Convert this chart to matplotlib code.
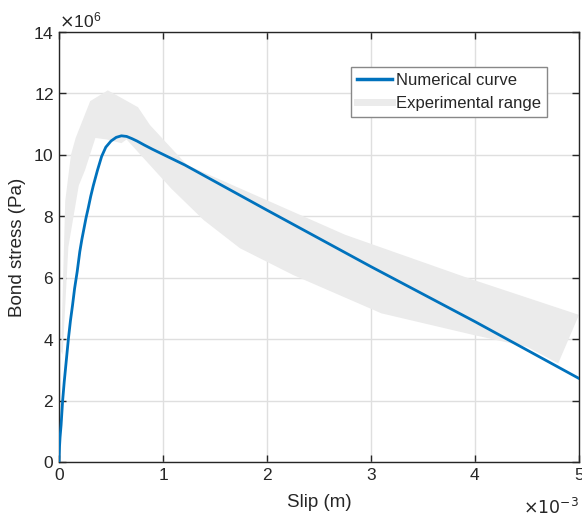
import numpy as np
import matplotlib
matplotlib.use("Agg")
import matplotlib.pyplot as plt
from matplotlib.lines import Line2D

# numerical curve (slip in mm, stress in MPa)
num_slip = [0, 0.005, 0.01, 0.02, 0.035, 0.05, 0.07, 0.09, 0.11, 0.13, 0.15, 0.175,
            0.2, 0.22, 0.24, 0.26, 0.28, 0.305, 0.33, 0.37, 0.41, 0.45, 0.5, 0.55,
            0.6, 0.65, 0.7, 0.75, 0.82, 0.9, 1.21, 2, 3, 4, 5]
num_stress = [0, 0.5, 0.8, 1.2, 2.0, 2.6, 3.3, 4.0, 4.6, 5.1, 5.65, 6.2,
              6.85, 7.25, 7.6, 7.95, 8.25, 8.65, 9.0, 9.5, 9.95, 10.25, 10.45, 10.57,
              10.62, 10.6, 10.53, 10.45, 10.32, 10.18, 9.67, 8.2, 6.36, 4.57, 2.72]

# experimental envelope
up_slip = [0.02, 0.06, 0.115, 0.16, 0.30, 0.47, 0.76, 0.875, 1.23, 2.75, 3.94, 5.0]
up_stress = [3.6, 8.5, 10.0, 10.55, 11.75, 12.1, 11.55, 10.97, 9.67, 7.4, 5.98, 4.79]
lo_slip = [0.035, 0.09, 0.19, 0.25, 0.35, 0.46, 0.60, 0.65, 1.08, 1.39, 1.74, 2.25,
           3.10, 3.98, 4.5, 4.80]
lo_stress = [3.5, 7.0, 9.0, 9.5, 10.55, 10.5, 10.38, 10.5, 8.9, 7.88, 6.96, 6.09,
             4.84, 4.14, 3.75, 3.21]

INK = "#262626"
BLUE = "#0072BD"
BAND = "#ebebeb"

plt.rcParams.update({"font.family": ["Liberation Sans", "DejaVu Sans"],
                     "font.size": 12.5, "text.color": INK,
                     "axes.edgecolor": INK, "xtick.color": INK, "ytick.color": INK,
                     "axes.labelcolor": INK, "axes.formatter.use_mathtext": True})

fig = plt.figure(figsize=(5.82, 5.22), dpi=100)
ax = fig.add_axes([59 / 582, 1 - 462 / 522, 520 / 582, 430 / 522])

mm, mpa = 1e-3, 1e6
band_x = np.concatenate([np.array(up_slip), np.array(lo_slip)[::-1]]) * mm
band_y = np.concatenate([np.array(up_stress), np.array(lo_stress)[::-1]]) * mpa
ax.fill(band_x, band_y, color=BAND, lw=0, zorder=1)
ax.plot(np.array(num_slip) * mm, np.array(num_stress) * mpa, color=BLUE, lw=2, zorder=3)

ax.set_xlim(0, 5e-3)
ax.set_ylim(0, 14e6)
ax.set_xticks(np.arange(0, 6) * mm)
ax.set_yticks(np.arange(0, 16, 2) * mpa)
ax.ticklabel_format(axis="y", style="sci", scilimits=(6, 6))
ax.ticklabel_format(axis="x", style="sci", scilimits=(-3, -3))
ax.xaxis.offsetText.set_visible(False)
fig.text(579 / 582, 1 - 507 / 522, r"$\times10^{-3}$", ha="right", va="center",
         fontsize=12.5)
ax.grid(True, color="#dfdfdf", lw=1)
ax.set_axisbelow(True)
ax.tick_params(direction="in", top=True, right=True, length=5, width=1, labelsize=12.5)
for s in ax.spines.values():
    s.set_linewidth(1)

ax.set_xlabel("Slip (m)", fontsize=13.5, labelpad=8)
ax.set_ylabel("Bond stress (Pa)", fontsize=13.5, labelpad=5)

handles = [Line2D([], [], color=BLUE, lw=2.5),
           Line2D([], [], color=BAND, lw=5)]
ax.legend(handles, ["Numerical curve", "Experimental range"], loc="upper right",
          bbox_to_anchor=(0.938, 0.919), fancybox=False, edgecolor="#888888",
          framealpha=1, handlelength=2.1, handletextpad=0.25, borderpad=0.35,
          labelspacing=0.5, fontsize=12, borderaxespad=0)

fig.savefig("out.png", dpi=100)
